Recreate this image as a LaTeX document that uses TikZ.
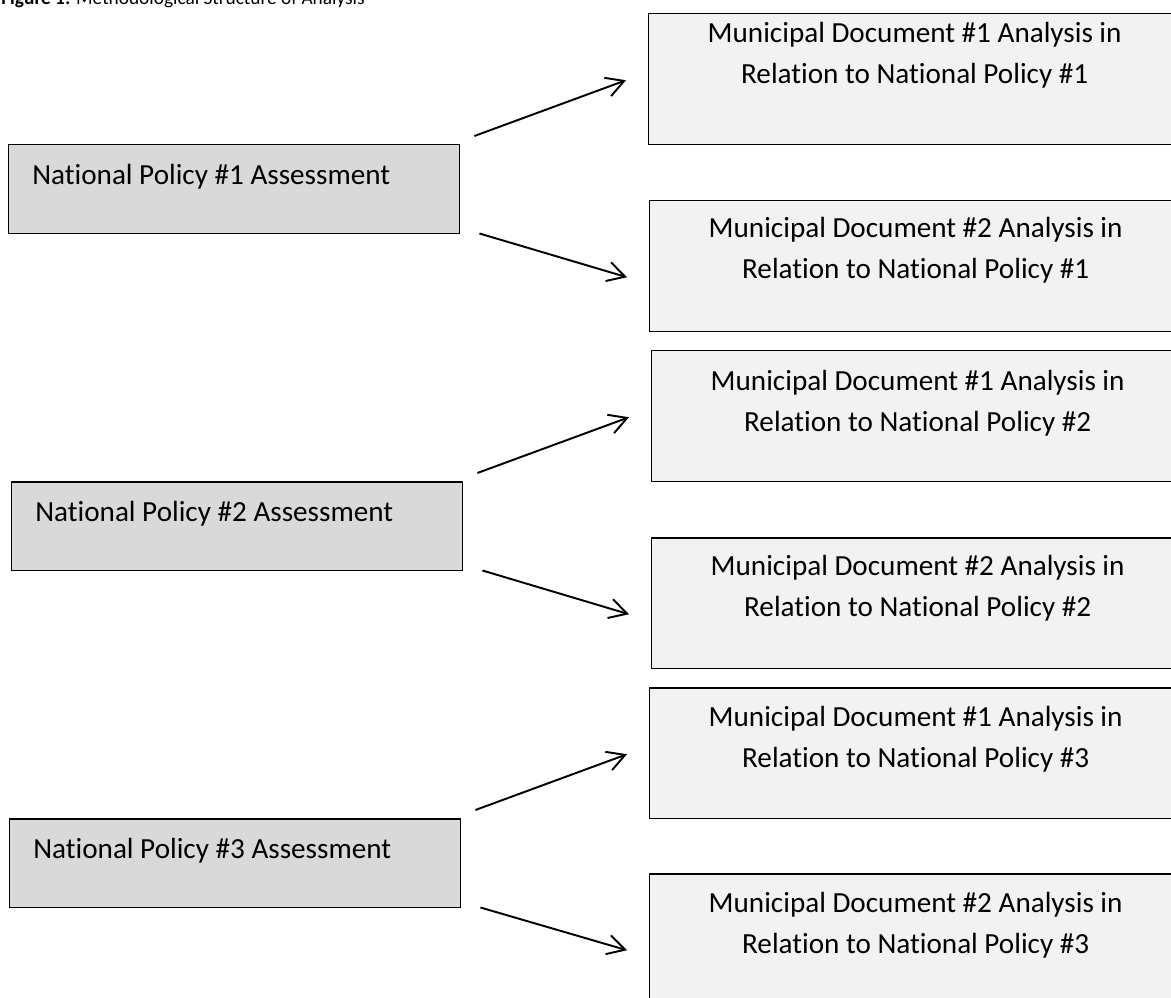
\documentclass[tikz,border=0pt]{standalone}
\usepackage{fontspec}
\setmainfont{Carlito}[Ligatures=NoCommon]
\usetikzlibrary{arrows.meta,calc,positioning}
\definecolor{policygray}{HTML}{D9D9D9}
\definecolor{docgray}{HTML}{F2F2F2}
\newcommand{\boxfont}{\fontsize{16.6}{23.3}\selectfont}
\tikzset{
  policy/.style={draw=black, line width=0.85pt, fill=policygray, anchor=north west,
    inner sep=0pt, minimum width=9.02cm, minimum height=1.78cm},
  document/.style={draw=black, line width=0.85pt, fill=docgray, anchor=north west,
    inner sep=0pt, minimum width=10.64cm, minimum height=2.62cm},
  policytext/.style={anchor=north west, inner sep=0pt},
  doctext/.style={anchor=north, inner sep=0pt, align=center}
}
\begin{document}
\begin{tikzpicture}[x=0.02cm,y=-0.02cm,>={Straight Barb[length=3.5mm,width=3.9mm]},font=\boxfont]
\path[use as bounding box, clip] (0,0) rectangle (1171,998);
% caption, cut at the top
\node[anchor=base west, inner sep=0pt, font=\fontsize{11}{13}\selectfont] (caption) at (1,4)
  {\textbf{Figure 1:} Methodological Structure of Analysis};
% national policies
\foreach \i/\x/\y in {1/8/144, 2/11/481, 3/9/818}{
  \node[policy] (np\i) at (\x,\y) {};
  \node[policytext, below right=0.40cm and 0.48cm of np\i.north west] (npt\i)
    {National Policy \#\i\ Assessment};
}
% municipal documents
\foreach \i/\j/\x/\y/\d in {1/1/648/13/0.18, 1/2/649/200/0.34, 2/1/651/350/0.40,
    2/2/651/537/0.36, 3/1/649/687/0.38, 3/2/649/873/0.38}{
  \node[document] (md\j\i) at (\x,\y) {};
  \node[doctext, below=\d cm of md\j\i.north] (mdt\j\i)
    {Municipal Document \#\j\ Analysis in\\Relation to National Policy \#\i};
}
% arrows
\foreach \i in {1,2,3}{
  \draw[->, line width=1.1pt] ($(np\i.north east)+(14,-8)$) -- ($(md1\i.west)+(-22,1)$);
  \draw[->, line width=1.1pt] ($(np\i.south east)+(19,-1)$) -- ($(md2\i.west)+(-22,11)$);
}
\end{tikzpicture}
\end{document}
